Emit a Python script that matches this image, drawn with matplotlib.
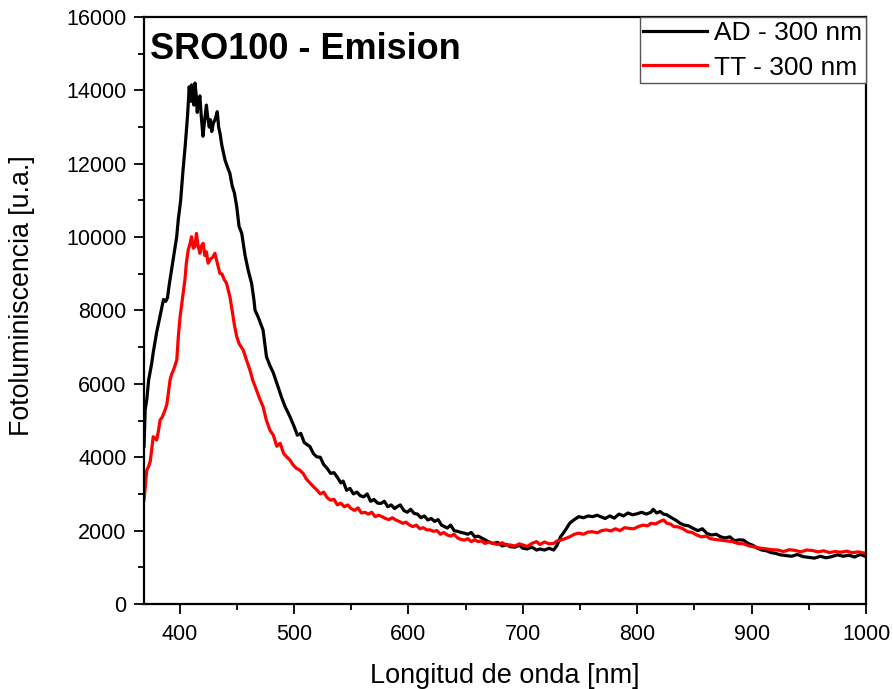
import matplotlib
matplotlib.use("Agg")
import matplotlib.pyplot as plt
from matplotlib.ticker import MultipleLocator

plt.rcParams['font.family'] = ['Liberation Sans', 'DejaVu Sans']

# Emission spectrum, as-deposited sample (AD), excitation 300 nm
ad_nm = [369, 370, 371.5, 373, 375.7, 377, 380, 382, 384, 386, 388, 389.5, 391, 393, 395,
         397.5, 399, 401, 403, 405, 407, 408.5, 409.5, 410.5, 411.5, 412.5, 413.5, 414.5,
         415.5, 416.5, 417.8, 419, 420.5, 422, 423.5, 424.5, 426, 427, 428.2, 429.5, 431,
         433, 434.2, 435.4, 437, 439.8, 442, 444, 446, 448, 450, 452, 454.4, 457.3, 460,
         463, 465, 466, 469, 473, 476, 479, 482, 485, 489, 492, 496.6, 500, 503, 506, 509,
         514, 517, 520, 523, 526, 529, 532, 535, 538, 541, 543, 546, 549, 552, 555, 558,
         561, 564, 567, 570, 573, 576, 579, 582, 585, 588, 590, 593, 596, 599, 602, 605,
         608, 611, 614, 617, 620, 623, 626, 629, 632, 634, 637, 640, 643, 646, 649, 652,
         655, 658, 661, 664, 667, 670, 674, 678, 682, 686, 689, 693, 697, 700, 704, 708,
         712, 715, 719, 723, 727, 730, 733, 737, 741, 745, 749, 753, 757, 761, 765, 768,
         772, 776, 780, 784, 788, 792, 796, 800, 804, 808, 812, 814, 817, 820, 823, 826,
         830, 834, 837.5, 841, 845, 849, 853, 857, 861, 865, 869, 873, 877, 881, 885, 889,
         893, 897, 901, 905, 909, 913, 917, 921, 925, 930, 935, 940, 945, 950, 955, 960,
         965, 970, 975, 980, 985, 990, 995, 1000]
ad_pl = [4300, 5290, 5600, 6100, 6560, 6850, 7400, 7700, 8000, 8300, 8250, 8350, 8700, 9100, 9500,
         10000, 10500, 11000, 11800, 12500, 13300, 14100, 13700, 14150, 13750, 13600, 14200, 13900,
         13400, 13700, 13850, 13300, 12750, 13200, 13600, 13300, 13000, 13200, 12880, 13100, 13200,
         13420, 13000, 12830, 12500, 12100, 11900, 11740, 11400, 11200, 10830, 10300, 10100, 9500, 9100,
         8740, 8300, 8010, 7800, 7470, 6740, 6500, 6300, 6020, 5650, 5400, 5100, 4850, 4600, 4650, 4400,
         4290, 4100, 4010, 4000, 3800, 3700, 3560, 3580, 3450, 3300, 3350, 3100, 3150, 3000, 3050, 2950,
         2920, 3000, 2800, 2850, 2750, 2740, 2800, 2650, 2700, 2600, 2650, 2700, 2550, 2500, 2580, 2470,
         2450, 2350, 2400, 2290, 2330, 2250, 2300, 2150, 2100, 2070, 2150, 2000, 1980, 1950, 1930, 1900,
         1950, 1830, 1850, 1800, 1750, 1700, 1650, 1680, 1580, 1620, 1560, 1550, 1600, 1520, 1500, 1550,
         1470, 1500, 1470, 1520, 1470, 1600, 1830, 2000, 2200, 2300, 2380, 2350, 2400, 2380, 2420, 2380,
         2330, 2400, 2340, 2450, 2400, 2480, 2430, 2460, 2500, 2450, 2500, 2580, 2480, 2520, 2450, 2430,
         2350, 2280, 2200, 2150, 2130, 2060, 2000, 2050, 1920, 1880, 1900, 1830, 1800, 1830, 1720, 1750,
         1740, 1650, 1600, 1520, 1470, 1450, 1400, 1380, 1340, 1320, 1300, 1350, 1290, 1270, 1250, 1300,
         1260, 1290, 1340, 1300, 1330, 1280, 1350, 1290]

# Emission spectrum, thermally treated sample (TT), excitation 300 nm
tt_nm = [369, 371.4, 373, 374.5, 377, 380, 381.5, 383, 385, 387.4, 389, 391.7, 393, 395, 397.6,
         399, 400.5, 402.5, 404.7, 406, 407.6, 409, 410.5, 412, 413.4, 414.8, 416, 417.8, 419,
         420.7, 422, 423.5, 425, 427, 429, 430.9, 433, 435.3, 437, 439, 441.1, 444, 446, 448,
         450, 452, 455.7, 458, 461.5, 464, 467.3, 470, 473, 476, 479, 482, 485, 488, 491, 494,
         496.6, 499, 502, 505, 508, 511, 514, 517, 520, 523, 526, 529, 532, 535, 538, 541, 544,
         547, 550, 553, 556, 559, 562, 565, 568, 571, 574, 577, 580, 583, 586, 589, 592, 595,
         598, 601, 604, 607, 610, 613, 616, 619, 622, 625, 628, 631, 634, 637, 640, 643, 646,
         649, 652, 655, 658, 661, 664, 667, 670, 674, 678, 682, 686, 689, 693, 697, 700, 704,
         708, 712, 715, 719, 723, 727, 730, 733, 737, 741, 745, 749, 753, 757, 761, 765, 769,
         773, 777, 781, 785, 789, 793, 797, 801, 805, 809, 812, 816, 820, 823, 826, 829, 832,
         836, 840, 844, 848, 852, 856, 860, 864, 868, 873, 878, 883, 888, 893, 898, 903, 908,
         913, 918, 923, 928, 933, 938, 943, 948, 953, 958, 963, 968, 973, 978, 983, 988, 993,
         998, 1000]
tt_pl = [2830, 3650, 3750, 3900, 4560, 4470, 4700, 5010, 5100, 5290, 5450, 6100, 6250, 6400, 6650,
         7300, 7830, 8300, 8830, 9300, 9650, 9800, 10010, 9700, 9740, 10100, 9800, 9560, 9750,
         9830, 9500, 9600, 9290, 9400, 9450, 9560, 9300, 9010, 9000, 8850, 8740, 8380, 8000, 7600,
         7290, 7100, 6920, 6700, 6380, 6100, 5830, 5600, 5380, 5000, 4740, 4600, 4300, 4380, 4100, 4000,
         3920, 3800, 3700, 3650, 3560, 3400, 3300, 3200, 3110, 3000, 3050, 2900, 2830, 2850, 2700, 2750, 2650,
         2700, 2600, 2550, 2620, 2480, 2500, 2450, 2500, 2380, 2420, 2380, 2330, 2300, 2350, 2290, 2250, 2200,
         2230, 2150, 2110, 2150, 2050, 2080, 2020, 2020, 1980, 2000, 1900, 1950, 1880, 1850, 1900, 1800, 1760,
         1740, 1780, 1700, 1750, 1700, 1720, 1650, 1690, 1650, 1620, 1670, 1600, 1610, 1580, 1640, 1610, 1570,
         1650, 1700, 1620, 1690, 1640, 1650, 1720, 1740, 1780, 1830, 1900, 1930, 1900, 1960, 1970, 1940, 2000,
         2020, 1990, 2050, 2000, 2080, 2060, 2050, 2110, 2150, 2130, 2200, 2180, 2250, 2290, 2200, 2180, 2110,
         2100, 2050, 1970, 1950, 1880, 1830, 1850, 1780, 1760, 1740, 1720, 1700, 1650, 1640, 1580, 1550, 1520,
         1500, 1480, 1470, 1430, 1480, 1460, 1420, 1470, 1460, 1420, 1450, 1400, 1430, 1410, 1440, 1400, 1420,
         1390, 1380]

series_labels = ["AD - 300 nm", "TT - 300 nm"]
x_ticks = [400, 500, 600, 700, 800, 900, 1000]
y_ticks = [0, 2000, 4000, 6000, 8000, 10000, 12000, 14000, 16000]

fig = plt.figure(figsize=(8.93, 6.89), dpi=100)
ax = fig.add_axes([0.1613, 0.1234, 0.8085, 0.8519])

ax.plot(ad_nm, ad_pl, color="black", lw=2.3, label=series_labels[0])
ax.plot(tt_nm, tt_pl, color="#ff0000", lw=2.3, label=series_labels[1])

ax.set_xlim(369, 1000)
ax.set_ylim(0, 16000)
ax.set_xticks(x_ticks)
ax.set_yticks(y_ticks)
ax.xaxis.set_minor_locator(MultipleLocator(50))
ax.yaxis.set_minor_locator(MultipleLocator(1000))
ax.tick_params(which="major", direction="out", length=7.5, width=1.3, labelsize=15.5, pad=5,
               top=False, right=False)
ax.tick_params(which="minor", direction="out", length=4, width=1.3, top=False, right=False)
ax.tick_params(axis="x", which="major", pad=7)
for sp in ax.spines.values():
    sp.set_linewidth(1.6)

ax.set_xlabel("Longitud de onda [nm]", fontsize=19.5, labelpad=13)
ax.set_ylabel("Fotoluminiscencia [u.a.]", fontsize=19.3)
ax.yaxis.set_label_coords(-0.151, 0.525)

ax.text(0.008, 0.975, "SRO100 - Emision", transform=ax.transAxes, fontsize=26,
        fontweight="bold", va="top", ha="left")

leg = ax.legend(loc="upper right", fontsize=19, borderaxespad=0, fancybox=False,
                framealpha=1, edgecolor="#555555", handlelength=2.4, handletextpad=0.27,
                borderpad=0.15, labelspacing=0.4)
leg.get_frame().set_linewidth(1.0)

fig.savefig("out.png", dpi=100)
